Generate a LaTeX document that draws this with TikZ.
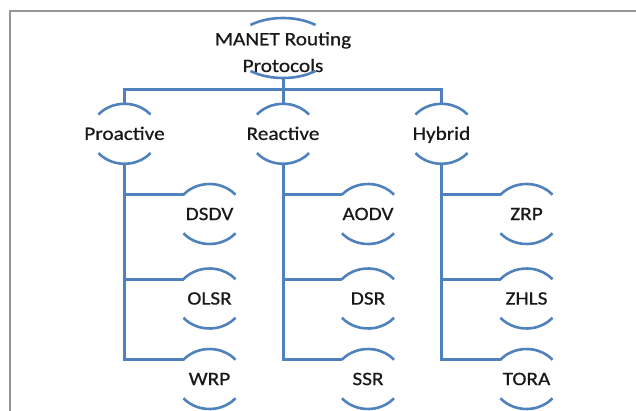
\documentclass[tikz,border=0pt]{standalone}
\usepackage{fontspec}
\setmainfont{Carlito}[FakeStretch=1.12, FakeBold=0.6]
\usetikzlibrary{shapes.geometric}
\definecolor{lineblue}{RGB}{79,129,189}
\definecolor{framegrey}{RGB}{150,150,150}
\definecolor{txt}{RGB}{25,25,25}
\newcommand{\lblfont}{\fontsize{19}{26.7}\selectfont}
\tikzset{
  conn/.style={draw=lineblue, line width=3pt},
  arcln/.style={draw=lineblue, line width=2.6pt},
  frameln/.style={draw=framegrey, line width=2pt},
  lbl/.style={ellipse, minimum width=68pt, minimum height=60pt, inner sep=0pt, outer sep=0pt,
    font=\lblfont, text=txt, text height=12.2pt, text depth=0pt},
  topshape/.style={ellipse, minimum width=101.4pt, minimum height=60pt, inner sep=0pt, outer sep=0pt},
  toplbl/.style={font=\lblfont, text=txt, inner sep=0pt, anchor=base}
}
\begin{document}
\begin{tikzpicture}[x=1pt,y=1pt]
\useasboundingbox (0,0) rectangle (636,-411);
% frame
\draw[frameln] (10,-412) -- (10,-11) -- (636,-11);
% top node
\node[topshape] (T) at (283,-48) {};
\node[toplbl] (Tt) at (283,-45.3) {\begin{tabular}[t]{@{}c@{}}MANET Routing\\Protocols\end{tabular}};
\draw[arcln] (T.center) ++(129.9:50.7pt and 30pt) arc[start angle=129.9,end angle=50.1,x radius=50.7pt,y radius=30pt];
\draw[arcln] (T.center) ++(230.1:50.7pt and 30pt) arc[start angle=230.1,end angle=309.9,x radius=50.7pt,y radius=30pt];
% level 2
\node[lbl] (P) at (124.5,-133.8) {\makebox[0pt]{Proactive}};
\node[lbl] (R) at (283,-133.8) {\makebox[0pt]{Reactive}};
\node[lbl] (H) at (441.5,-133.8) {\makebox[0pt]{Hybrid}};
% level 3
\node[lbl] (P1) at (209.5,-214) {\makebox[0pt]{DSDV}};
\node[lbl] (P2) at (209.5,-298.5) {\makebox[0pt]{OLSR}};
\node[lbl] (P3) at (209.5,-379) {\makebox[0pt]{WRP}};
\node[lbl] (R1) at (368,-214) {\makebox[0pt]{AODV}};
\node[lbl] (R2) at (368,-298.5) {\makebox[0pt]{DSR}};
\node[lbl] (R3) at (368,-379) {\makebox[0pt]{SSR}};
\node[lbl] (H1) at (526.5,-214) {\makebox[0pt]{ZRP}};
\node[lbl] (H2) at (526.5,-298.5) {\makebox[0pt]{ZHLS}};
\node[lbl] (H3) at (526.5,-379) {\makebox[0pt]{TORA}};
% arcs of the small nodes
\foreach \n in {P,R,H,P1,P2,P3,R1,R2,R3,H1,H2,H3}{
  \draw[arcln] (\n.center) ++(140:34pt and 30pt) arc[start angle=140,end angle=40,x radius=34pt,y radius=30pt];
  \draw[arcln] (\n.center) ++(220:34pt and 30pt) arc[start angle=220,end angle=320,x radius=34pt,y radius=30pt];
}
% connectors
\coordinate (bus) at (283,-90);
\draw[conn] (T.south) -- (bus);
\draw[conn] (P.north) |- (bus) -| (H.north);
\draw[conn] (bus) -- (R.north);
\foreach \p in {P,R,H}{
  \draw[conn] (\p.south) |- (\p3.143.5);
  \draw[conn] (\p.south |- \p1.143.5) -- (\p1.143.5);
  \draw[conn] (\p.south |- \p2.143.5) -- (\p2.143.5);
}
\end{tikzpicture}
\end{document}
